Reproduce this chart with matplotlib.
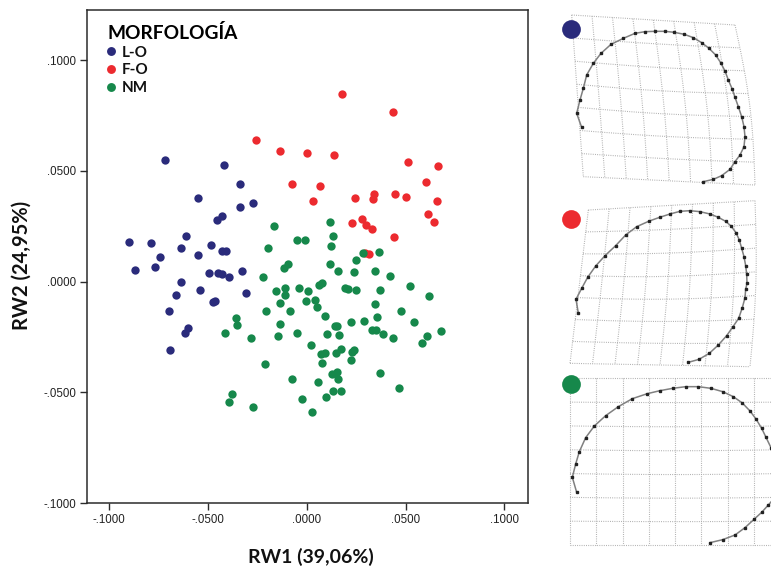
import numpy as np
import matplotlib
matplotlib.use("Agg")
import matplotlib.pyplot as plt
from matplotlib.lines import Line2D

# ---------------- data ----------------
groups = ["L-O", "F-O", "NM"]
colors = {"L-O": "#2a2b7b", "F-O": "#ec2a2f", "NM": "#16884b"}

lo_x = [-0.0716, -0.0419, -0.0339, -0.0552, -0.0339, -0.0272, -0.0455, -0.0429, -0.0611,
        -0.0899, -0.0786, -0.0635, -0.0484, -0.0430, -0.0410, -0.0552, -0.0744, -0.0870,
        -0.0769, -0.0496, -0.0447, -0.0429, -0.0395, -0.0327, -0.0638, -0.0540, -0.0307,
        -0.0663, -0.0473, -0.0464, -0.0695, -0.0617, -0.0599, -0.0693]
lo_y = [0.0549, 0.0525, 0.0442, 0.0377, 0.0337, 0.0353, 0.0278, 0.0295, 0.0206,
        0.0179, 0.0174, 0.0152, 0.0165, 0.0139, 0.0137, 0.0120, 0.0111, 0.0054,
        0.0067, 0.0039, 0.0039, 0.0036, 0.0019, 0.0049, -0.0002, -0.0038, -0.0050,
        -0.0062, -0.0092, -0.0086, -0.0134, -0.0231, -0.0209, -0.0307]

fo_x = [0.0177, 0.0435, -0.0258, -0.0135, 0.0002, 0.0140, 0.0511, 0.0666, -0.0076,
        0.0067, 0.0602, 0.0032, 0.0243, 0.0342, 0.0337, 0.0448, 0.0503, 0.0658,
        0.0615, 0.0643, 0.0229, 0.0280, 0.0299, 0.0329, 0.0442, 0.0295, 0.0317]
fo_y = [0.0845, 0.0767, 0.0639, 0.0588, 0.0580, 0.0570, 0.0540, 0.0520, 0.0439,
        0.0433, 0.0451, 0.0364, 0.0379, 0.0397, 0.0373, 0.0395, 0.0380, 0.0364,
        0.0306, 0.0270, 0.0263, 0.0281, 0.0255, 0.0239, 0.0201, 0.0130, 0.0125]

nm_x = [-0.0167, 0.0118, 0.0135, -0.0048, -0.0010, -0.0197, 0.0123, 0.0366, 0.0286,
        0.0248, 0.0118, 0.0158, 0.0239, 0.0347, 0.0420, 0.0523, 0.0617, 0.0369,
        0.0194, 0.0211, 0.0249, 0.0344, 0.0476, 0.0354, 0.0291, 0.0223, 0.0541,
        0.0330, 0.0351, 0.0385, 0.0435, 0.0681, 0.0609, 0.0583, -0.0223, -0.0116,
        -0.0093, -0.0157, -0.0108, -0.0108, -0.0040, 0.0008, 0.0064, 0.0076, -0.0134,
        -0.0005, 0.0042, 0.0052, -0.0206, -0.0083, 0.0093, -0.0358, -0.0351, -0.0134,
        -0.0412, -0.0282, -0.0145, -0.0048, 0.0104, 0.0143, 0.0153, 0.0163, 0.0020,
        0.0072, 0.0093, 0.0076, 0.0150, 0.0172, 0.0228, 0.0241, 0.0223, -0.0210,
        0.0130, 0.0155, 0.0160, 0.0369, -0.0073, 0.0059, 0.0467, 0.0132, 0.0174,
        0.0096, -0.0380, -0.0395, -0.0025, -0.0272, 0.0027]
nm_y = [0.0252, 0.0269, 0.0207, 0.0186, 0.0186, 0.0152, 0.0159, 0.0135, 0.0130,
        0.0096, 0.0078, 0.0049, 0.0042, 0.0046, 0.0025, -0.0021, -0.0066, -0.0038,
        -0.0030, -0.0035, -0.0038, -0.0101, -0.0133, -0.0160, -0.0178, -0.0184, -0.0184,
        -0.0217, -0.0220, -0.0238, -0.0253, -0.0222, -0.0247, -0.0278, 0.0021, 0.0063,
        0.0081, -0.0042, -0.0029, -0.0059, -0.0029, -0.0042, -0.0014, -0.0008, -0.0095,
        -0.0088, -0.0082, -0.0115, -0.0130, -0.0130, -0.0155, -0.0166, -0.0196, -0.0190,
        -0.0231, -0.0255, -0.0244, -0.0233, -0.0238, -0.0200, -0.0199, -0.0241, -0.0286,
        -0.0328, -0.0321, -0.0366, -0.0324, -0.0304, -0.0316, -0.0307, -0.0354, -0.0372,
        -0.0417, -0.0408, -0.0441, -0.0411, -0.0440, -0.0454, -0.0479, -0.0494, -0.0494,
        -0.0519, -0.0507, -0.0543, -0.0531, -0.0567, -0.0590]

tick_vals = [-0.1, -0.05, 0.0, 0.05, 0.1]
tick_labels = ["-.1000", "-.0500", ".0000", ".0500", ".1000"]
x_label = "RW1 (39,06%)"
y_label = "RW2 (24,95%)"
legend_title = "MORFOLOGÍA"

# deformation-grid panels (local panel units)
outline_lo = [(80, 352), (65, 310), (75, 270), (85, 235), (95, 195), (115, 160), (138, 130),
              (168, 103), (205, 85), (240, 70), (270, 65), (300, 64), (330, 64), (358, 67),
              (388, 73), (415, 83), (440, 98), (462, 115), (482, 135), (497, 158), (510, 183),
              (520, 210), (532, 238), (540, 262), (550, 290), (560, 320), (567, 350),
              (570, 380), (567, 410), (555, 435), (540, 455), (525, 478), (500, 497),
              (475, 508), (445, 515)]
outline_fo = [(70, 340), (63, 298), (80, 265), (98, 232), (122, 198), (150, 167), (182, 137),
              (212, 105), (245, 80), (283, 63), (314, 52), (345, 42), (375, 34), (405, 32),
              (435, 35), (465, 42), (490, 52), (512, 64), (528, 78), (543, 98), (553, 120),
              (560, 145), (567, 170), (572, 197), (575, 222), (576, 250), (572, 268),
              (570, 293), (562, 323), (551, 355), (534, 380), (515, 407), (490, 435),
              (463, 460), (432, 478), (400, 487)]
outline_nm = [(65, 382), (52, 337), (62, 297), (73, 260), (92, 218), (118, 183), (152, 152),
              (190, 125), (232, 101), (277, 86), (315, 77), (353, 70), (392, 65), (430, 65),
              (468, 70), (503, 80), (535, 95), (562, 114), (585, 138), (603, 162), (620, 190),
              (633, 217), (648, 248), (664, 290), (670, 340), (662, 395), (640, 420),
              (620, 442), (597, 463), (570, 488), (540, 510), (503, 524), (465, 533)]
# grid corners: TL, TR, BR, BL ; bulge
grid_lo = [(50, 15), (540, 45), (600, 525), (85, 500)]
grid_fo = [(100, 30), (600, 2), (585, 500), (45, 490)]
grid_nm = [(45, 40), (675, 40), (675, 540), (45, 540)]
grid_cols = [8, 8, 8]
grid_rows = [7, 7, 7]
grid_bulge = [(14, 6), (10, 8), (0, 3)]

# ---------------- figure ----------------
W, H = 771, 570
fig = plt.figure(figsize=(W / 100, H / 100), dpi=100)
fig.patch.set_facecolor("white")

ax = fig.add_axes([87.3 / W, 1 - 503.3 / H, (527.7 - 87.3) / W, (503.3 - 10) / H])
ms = 36
ax.scatter(lo_x, lo_y, s=ms, color=colors["L-O"], lw=0, zorder=3)
ax.scatter(fo_x, fo_y, s=ms, color=colors["F-O"], lw=0, zorder=3)
ax.scatter(nm_x, nm_y, s=ms, color=colors["NM"], lw=0, zorder=3)

ax.set_xlim(-0.1110, 0.1118)
ax.set_ylim(-0.1000, 0.1226)
ax.set_xticks(tick_vals)
ax.set_xticklabels(tick_labels)
ax.set_yticks(tick_vals)
ax.set_yticklabels(tick_labels)
for s in ax.spines.values():
    s.set_color("#2b2b2b")
    s.set_linewidth(1.1)
ax.tick_params(direction="out", length=5, width=1, color="#2b2b2b",
               labelsize=8.3, labelcolor="#222222", pad=3)
for lab in ax.get_xticklabels() + ax.get_yticklabels():
    lab.set_family("Liberation Sans")

fig.text(311 / W, 1 - 557 / H, x_label, ha="center", va="center",
         fontsize=14, fontweight="bold", family="Lato", color="#111111")
fig.text(22 / W, 1 - 265 / H, y_label, ha="center", va="center", rotation=90,
         fontsize=14.5, fontweight="bold", family="Lato", color="#111111")

handles = [Line2D([], [], marker="o", ls="", ms=6.4, color=colors[g], mec="none") for g in groups]
leg = ax.legend(handles, groups, title=legend_title, loc="upper left",
                bbox_to_anchor=(0.045, 0.972), frameon=False, handlelength=0.55,
                handletextpad=0.4, labelspacing=0.25, borderaxespad=0.0,
                borderpad=0.0,
                prop={"family": "Lato", "weight": "bold", "size": 11},
                title_fontproperties={"family": "Lato", "weight": "bold", "size": 13.8},
                alignment="left")
for t in leg.get_texts():
    t.set_color("#111111")


def draw_panel(rect, lim, grid, ncol, nrow, bulge, outline, col):
    pa = fig.add_axes(rect)
    pa.set_xlim(0, lim[0])
    pa.set_ylim(lim[1], 0)
    pa.axis("off")
    TL, TR, BR, BL = [np.array(p, float) for p in grid]

    def P(u, v):
        top = TL + (TR - TL) * u
        bot = BL + (BR - BL) * u
        p = top + (bot - top) * v
        bx = bulge[0] * np.sin(np.pi * v) * u
        by = bulge[1] * np.sin(np.pi * u) * np.sin(np.pi * v)
        return p[0] + bx, p[1] + by

    t = np.linspace(0, 1, 60)
    gkw = dict(ls=(0, (0.8, 1.2)), lw=0.8, color="#aaaaaa", zorder=1)
    for i in range(ncol + 1):
        u = i / ncol
        xs, ys = zip(*[P(u, v) for v in t])
        pa.plot(xs, ys, **gkw)
    for j in range(nrow + 1):
        v = j / nrow
        xs, ys = zip(*[P(u, v) for u in t])
        pa.plot(xs, ys, **gkw)
    ox, oy = zip(*outline)
    pa.plot(ox, oy, color="#808080", lw=1.1, zorder=2)
    pa.plot(ox, oy, ls="", marker="s", ms=1.7, color="#222222", zorder=3)
    pa.plot([47], [58], marker="o", ms=13.5, color=col, mec="none", zorder=4, clip_on=False)
    return pa


draw_panel([555 / W, 1 - 200 / H, 216 / W, 190 / H], (648, 570), grid_lo,
           grid_cols[0], grid_rows[0], grid_bulge[0], outline_lo, colors["L-O"])
draw_panel([555 / W, 1 - 370 / H, 216 / W, 170 / H], (648, 510), grid_fo,
           grid_cols[1], grid_rows[1], grid_bulge[1], outline_fo, colors["F-O"])
draw_panel([555 / W, 1 - 555 / H, 216 / W, 190 / H], (648, 570), grid_nm,
           grid_cols[2], grid_rows[2], grid_bulge[2], outline_nm, colors["NM"])

fig.savefig("out.png", dpi=100)
